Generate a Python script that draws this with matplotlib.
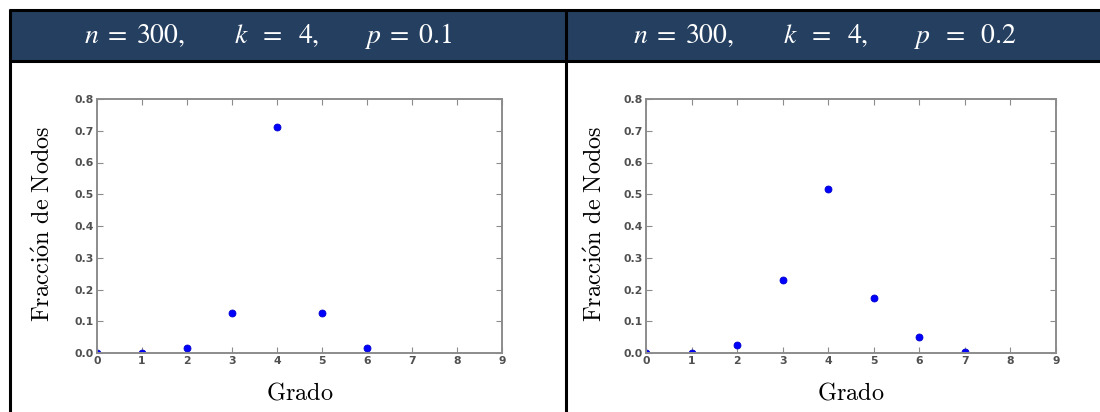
import matplotlib
matplotlib.use("Agg")
import matplotlib.pyplot as plt
from matplotlib.patches import Rectangle

# Degree distributions of two small-world networks (n = 300, k = 4)
grado_a = [0, 1, 2, 3, 4, 5, 6]
fraccion_a = [0.0, 0.0, 0.015, 0.125, 0.713, 0.125, 0.015]

grado_b = [0, 1, 2, 3, 4, 5, 6, 7]
fraccion_b = [0.0, 0.0, 0.026, 0.229, 0.516, 0.172, 0.049, 0.003]

titulos = [r"$n\;=\;300,\qquad\; k\ \;=\ \;4,\qquad\, p\;=\;0.1$",
           r"$n\;=\;300,\qquad\; k\ \;=\ \;4,\qquad\, p\ \;=\ \;0.2$"]
xticks = list(range(10))
yticks = [0.0, 0.1, 0.2, 0.3, 0.4, 0.5, 0.6, 0.7, 0.8]

W, H = 1100, 412
fig = plt.figure(figsize=(W / 100, H / 100), dpi=100)

# Table frame drawn in pixel coordinates
bg = fig.add_axes([0, 0, 1, 1], zorder=0)
bg.set_xlim(0, W)
bg.set_ylim(H, 0)
bg.axis("off")
header = "#243f60"
bg.add_patch(Rectangle((10, 10), W - 10, 51, facecolor=header, edgecolor="none"))
bg.plot([9, W], [10, 10], color="black", lw=2.2, solid_capstyle="butt")
bg.plot([9, W], [61, 61], color="black", lw=2.2, solid_capstyle="butt")
bg.plot([10, 10], [9, H], color="black", lw=2.2, solid_capstyle="butt")
bg.plot([566, 566], [9, H], color="black", lw=2.2, solid_capstyle="butt")

for xc, t in zip([268, 825], titulos):
    bg.text(xc, 36, t, color="white", fontsize=20, ha="center", va="center",
            math_fontfamily="stix")

paneles = [
    ([97 / W, (H - 353) / H, 405 / W, 254 / H], grado_a, fraccion_a, -0.133),
    ([646 / W, (H - 353) / H, 410 / W, 254 / H], grado_b, fraccion_b, -0.124),
]

spine_c = "#8c8c8c"
for rect, gx, fy, ylx in paneles:
    ax = fig.add_axes(rect, zorder=1)
    ax.plot(gx, fy, "o", color="#0000ff", markersize=5, markeredgewidth=0.6,
            markeredgecolor="#0000cc")
    ax.set_xlim(0, 9)
    ax.set_ylim(0, 0.8)
    ax.set_xticks(xticks)
    ax.set_yticks(yticks)
    ax.set_xticklabels([str(v) for v in xticks])
    ax.set_yticklabels([f"{v:.1f}" for v in yticks])
    for s in ax.spines.values():
        s.set_color(spine_c)
        s.set_linewidth(1.4)
    ax.tick_params(direction="in", top=True, right=True, length=4, width=0.8,
                   color=spine_c, labelsize=7.8, labelcolor="#505050", pad=2)
    for lab in ax.get_xticklabels() + ax.get_yticklabels():
        lab.set_fontweight("bold")
    ax.set_xlabel(r"$\mathrm{Grado}$", fontsize=17.5, math_fontfamily="cm",
                  va="center")
    ax.xaxis.set_label_coords(0.5, -0.154)
    ax.set_ylabel(r"$\mathrm{Fracci\acute{o}n\ de\ Nodos}$", fontsize=17.5,
                  math_fontfamily="cm", va="center")
    ax.yaxis.set_label_coords(ylx, 0.51)

fig.savefig("out.png", dpi=100, facecolor="white")
